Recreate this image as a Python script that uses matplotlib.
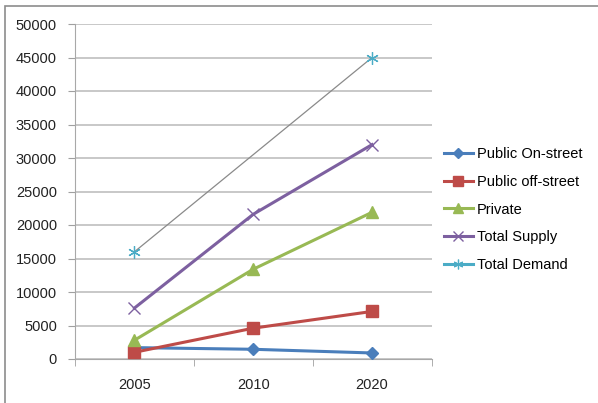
import numpy as np
import matplotlib
matplotlib.use("Agg")
import matplotlib.pyplot as plt
from matplotlib.lines import Line2D
from matplotlib.patches import Rectangle

plt.rcParams['font.family'] = ['Liberation Sans', 'DejaVu Sans']

years = ["2005", "2010", "2020"]
public_on_street = [1700, 1450, 900]
public_off_street = [1000, 4600, 7100]
private = [2800, 13400, 21900]
total_supply = [7600, 21600, 32000]
total_demand = [16000, np.nan, 45000]
y_ticks = [0, 5000, 10000, 15000, 20000, 25000, 30000, 35000, 40000, 45000, 50000]

fig = plt.figure(figsize=(5.98, 4.03), dpi=100)
fig.patch.set_facecolor("white")
# outer chart border
fig.add_artist(Rectangle((5 / 598, -0.05), 1.2, 1 - 6 / 403 + 0.05,
                         transform=fig.transFigure, fill=False,
                         edgecolor="#8c8c8c", linewidth=1.2))

ax = fig.add_axes([75 / 598, 1 - 359 / 403, (431.5 - 75) / 598, (359 - 24) / 403])
x = np.arange(len(years))

c_blue = "#4a7ebb"
c_red = "#be4b48"
c_green = "#98b954"
c_purple = "#7d60a0"
c_cyan = "#4bacc6"

ax.plot(x, public_on_street, color=c_blue, lw=2.2, marker="D", ms=6, zorder=5)
ax.plot(x, public_off_street, color=c_red, lw=2.2, marker="s", ms=8, zorder=5)
ax.plot(x, private, color=c_green, lw=2.2, marker="^", ms=8, zorder=5)
ax.plot(x, total_supply, color=c_purple, lw=2.2, marker="x", ms=8, mew=1.0, zorder=5)
d = np.array(total_demand, dtype=float)
m = ~np.isnan(d)
ax.plot(x[m], d[m], color="#8a8a8a", lw=0.9, zorder=4)
ax.plot(x[m], d[m], ls="none", marker=(6, 2, 0), ms=9, mew=0.9, color=c_cyan, zorder=5)

ax.set_xlim(-0.5, 2.5)
ax.set_ylim(0, 50000)
ax.set_yticks(y_ticks)
ax.set_yticklabels([str(v) for v in y_ticks], fontsize=10.5, color="#222222")
ax.set_xticks(x)
ax.set_xticklabels(years, fontsize=10.5, color="#222222")
ax.set_xticks([-0.5, 0.5, 1.5, 2.5], minor=True)
ax.tick_params(axis="x", which="major", length=0, pad=14)
ax.tick_params(axis="x", which="minor", length=5, color="#a0a0a0", direction="out")
ax.tick_params(axis="y", length=5, color="#a0a0a0", direction="out", pad=8)

ax.grid(axis="y", color="#c8c8c8", lw=1.4)
ax.set_axisbelow(True)
for s in ["top", "right"]:
    ax.spines[s].set_visible(False)
ax.spines["left"].set_color("#a8a8a8")
ax.spines["bottom"].set_color("#a8a8a8")

handles = [
    Line2D([], [], color=c_blue, lw=2.2, marker="D", ms=5),
    Line2D([], [], color=c_red, lw=2.2, marker="s", ms=7),
    Line2D([], [], color=c_green, lw=2.2, marker="^", ms=7),
    Line2D([], [], color=c_purple, lw=2.2, marker="x", ms=7, mew=1.0),
    Line2D([], [], color=c_cyan, lw=2.2, marker=(6, 2, 0), ms=7, mew=0.9),
]
labels = ["Public On-street", "Public off-street", "Private", "Total Supply", "Total Demand"]
fig.legend(handles, labels, loc="upper left", bbox_to_anchor=(438 / 598, 1 - 141 / 403),
           frameon=False, fontsize=10.5, handlelength=2.0, handletextpad=0.25,
           labelspacing=0.95, borderaxespad=0)

fig.savefig("out.png", dpi=100, facecolor="white")
